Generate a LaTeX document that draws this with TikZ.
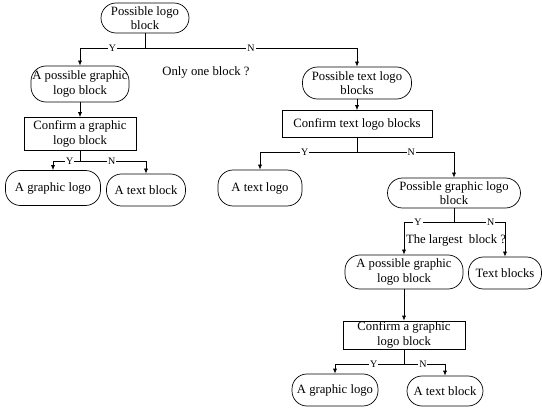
\documentclass[tikz,border=0pt]{standalone}
\usepackage{fontspec}
\setmainfont{Liberation Serif}
\usetikzlibrary{arrows.meta}

\begin{document}
\begin{tikzpicture}[
  x=1pt, y=-1pt,
  term/.style={rectangle, rounded corners=15pt, draw, line width=0.7pt,
               align=center, inner sep=0pt, font=\fontsize{12.7}{14.5}\selectfont},
  proc/.style={rectangle, draw, line width=0.7pt,
               align=center, inner sep=0pt, font=\fontsize{12.7}{14.5}\selectfont},
  note/.style={font=\fontsize{12.7}{14.5}\selectfont},
  lab/.style={fill=white, inner sep=1pt, font=\fontsize{10}{11}\selectfont},
  arr/.style={-{Latex[length=5pt,width=4pt]}, line width=0.7pt},
  lin/.style={line width=0.7pt},
]
  \useasboundingbox (0,0) rectangle (542,412);

  % Top: only one block?
  \node[term, minimum width=88pt, minimum height=30pt] (top) at (145,18) {Possible logo\\block};
  \node[note] (q1) at (206,72) {Only one block ?};
  \coordinate (j1) at (145,48);

  % Left branch
  \node[term, minimum width=98pt, minimum height=36pt] (ga1) at (80,84) {A possible graphic\\logo block};
  \node[proc, minimum width=112pt, minimum height=33pt] (cg1) at (80,134) {Confirm a graphic\\logo block};
  \coordinate (j2) at (80,161);
  \node[term, minimum width=95pt, minimum height=35pt] (gl1) at (53,188) {A graphic logo};
  \node[term, minimum width=79pt, minimum height=32pt] (tb1) at (146,190) {A text block};

  % Right branch
  \node[term, minimum width=109pt, minimum height=32pt] (pt) at (357,83) {Possible text logo\\blocks};
  \node[proc, minimum width=150pt, minimum height=27pt] (ct) at (357,124) {Confirm text logo blocks};
  \coordinate (j3) at (357,152);
  \node[term, minimum width=84pt, minimum height=36pt] (tl) at (260,188) {A text logo};
  \node[term, minimum width=133pt, minimum height=30pt] (pg) at (454,193) {Possible graphic logo\\block};
  \node[note] (q2) at (456,240) {The largest~ block ?};
  \coordinate (j4) at (454,222);
  \node[term, minimum width=118pt, minimum height=34pt] (ga2) at (404,272) {A possible graphic\\logo block};
  \node[term, minimum width=73pt, minimum height=32pt] (tbs) at (505,273) {Text blocks};
  \node[proc, minimum width=122pt, minimum height=28pt] (cg2) at (404,335) {Confirm a graphic\\logo block};
  \coordinate (j5) at (404,364);
  \node[term, minimum width=86pt, minimum height=32pt] (gl2) at (335,390) {A graphic logo};
  \node[term, minimum width=76pt, minimum height=30pt] (tb2) at (445,391) {A text block};

  % Connectors
  \draw[lin] (top) -- (j1);
  \draw[arr] (j1) -| node[lab, pos=0.25]{Y} (ga1);
  \draw[arr] (j1) -| node[lab, pos=0.25]{N} (pt);

  \draw[arr] (ga1) -- (cg1);
  \draw[lin] (cg1) -- (j2);
  \draw[arr] (j2) -| node[lab, pos=0.19]{Y} (gl1);
  \draw[arr] (j2) -| node[lab, pos=0.24]{N} (tb1);

  \draw[arr] (pt) -- (ct);
  \draw[lin] (ct) -- (j3);
  \draw[arr] (j3) -| node[lab, pos=0.27]{Y} (tl);
  \draw[arr] (j3) -| node[lab, pos=0.28]{N} (pg);

  \draw[lin] (pg) -- (j4);
  \draw[arr] (j4) -| node[lab, pos=0.36]{Y} (ga2);
  \draw[arr] (j4) -| node[lab, pos=0.36]{N} (tbs);

  \draw[arr] (ga2) -- (cg2);
  \draw[lin] (cg2) -- (j5);
  \draw[arr] (j5) -| node[lab, pos=0.22]{Y} (gl2);
  \draw[arr] (j5) -| node[lab, pos=0.23]{N} (tb2);
\end{tikzpicture}
\end{document}
